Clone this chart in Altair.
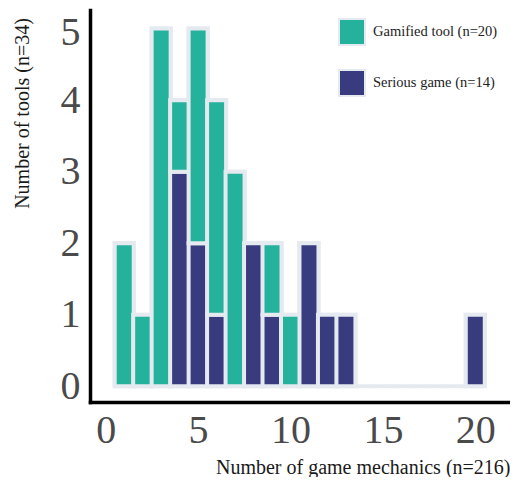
import altair as alt
import pandas as pd

# ---- data ----
mechanics = list(range(1, 21))
gamified = [2, 1, 5, 1, 3, 3, 3, 0, 1, 1, 0, 0, 0, 0, 0, 0, 0, 0, 0, 0]
serious = [0, 0, 0, 3, 2, 1, 0, 2, 1, 0, 2, 1, 1, 0, 0, 0, 0, 0, 0, 1]
series_names = ["Gamified tool (n=20)", "Serious game (n=14)"]
series_colors = ["#24b29c", "#383b7e"]
x_ticks = [0, 5, 10, 15, 20]
y_ticks = [0, 1, 2, 3, 4, 5]

totals = pd.DataFrame({
    "m": mechanics,
    "base": [0] * len(mechanics),
    "total": [g + s for g, s in zip(gamified, serious)],
})
rows = []
for m, g, s in zip(mechanics, gamified, serious):
    if s > 0:
        rows.append({"m": m, "series": series_names[1], "y0": 0, "y1": s})
    if g > 0:
        rows.append({"m": m, "series": series_names[0], "y0": s, "y1": s + g})
segs = pd.DataFrame(rows)

light = "#e5e9f0"
serif = "Liberation Serif"

xscale = alt.Scale(domain=[-0.58, 21.5], nice=False, zero=False)
yscale = alt.Scale(domain=[-0.22, 5.26], nice=False, zero=False)

xaxis = alt.Axis(
    values=x_ticks, format="d", grid=False, ticks=False,
    domainColor="#000", domainWidth=3.5, domainCap="square",
    labelFont=serif, labelFontSize=40, labelColor="#4a4a4a", labelPadding=8,
    labelBaseline="top", labelFlush=False,
    title="Number of game mechanics (n=216)", titleFont=serif, titleFontSize=20,
    titleFontWeight="normal", titleColor="#1a1a1a",
    titleX=420, titleY=71, titleAlign="right", titleBaseline="alphabetic",
)
yaxis = alt.Axis(
    values=y_ticks, format="d", grid=False, ticks=False,
    domainColor="#000", domainWidth=3.5, domainCap="square",
    labelFont=serif, labelFontSize=40, labelColor="#4a4a4a", labelPadding=10,
    labelFlush=False,
    labelOffset=alt.condition("datum.value == 5", alt.value(4), alt.value(0)),
    title="Number of tools (n=34)", titleFont=serif, titleFontSize=20,
    titleFontWeight="normal", titleColor="#1a1a1a",
    titleX=-62, titleY=103, titleAlign="center", titleBaseline="alphabetic",
    titleAngle=270,
)

bg = alt.Chart(totals).mark_bar(size=19, fill=light, stroke=light, strokeWidth=4).encode(
    x=alt.X("m:Q", scale=xscale, axis=xaxis),
    y=alt.Y("total:Q", scale=yscale, axis=yaxis),
    y2="base:Q",
)

fg = alt.Chart(segs).mark_bar(size=19, stroke=light, strokeWidth=4).encode(
    x=alt.X("m:Q", scale=xscale, axis=xaxis),
    y=alt.Y("y1:Q", scale=yscale, axis=yaxis),
    y2="y0:Q",
    color=alt.Color(
        "series:N",
        scale=alt.Scale(domain=series_names, range=series_colors),
        legend=alt.Legend(
            title=None, orient="none", legendX=248, legendY=8,
            symbolType="square", symbolSize=676, symbolStrokeColor=light,
            symbolStrokeWidth=2, symbolOpacity=1,
            labelFont=serif, labelFontSize=14.5, labelColor="#222",
            rowPadding=17, labelOffset=7, padding=0,
        ),
    ),
)

chart = alt.layer(bg, fg).properties(
    width=418, height=392,
    padding={"left": 82, "top": 2, "right": 2, "bottom": 75},
    autosize=alt.AutoSizeParams(type="none"),
).configure(font=serif).configure_view(stroke=None).configure_legend(
    labelFont=serif
).configure_axis(labelFont=serif, titleFont=serif)

chart.save("out.html", embed_options={"renderer": "svg", "actions": False})
